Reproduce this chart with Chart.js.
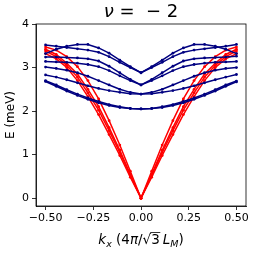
<!DOCTYPE html>
<html><head><meta charset="utf-8">
<script src="https://cdn.jsdelivr.net/npm/chart.js@4/dist/chart.umd.min.js"></script>
<style>html,body{margin:0;padding:0;background:#fff}canvas{display:block}</style>
</head><body>
<canvas id="c" width="256" height="255"></canvas>
<script>
const kValues = [-0.5,-0.444,-0.389,-0.333,-0.278,-0.222,-0.167,-0.111,-0.056,0,0.056,0.111,0.167,0.222,0.278,0.333,0.389,0.444,0.5];
const xTicks = [-0.5,-0.25,0,0.25,0.5];
const yTicks = [0,1,2,3,4];

const red1 = [3.47,3.40,3.25,3.02,2.70,2.28,1.78,1.22,0.62,0,0.62,1.22,1.78,2.28,2.70,3.02,3.25,3.40,3.47];
const red2 = [3.42,3.30,3.10,2.85,2.50,2.10,1.62,1.10,0.55,0,0.55,1.10,1.62,2.10,2.50,2.85,3.10,3.30,3.42];
const red3 = [3.38,3.25,3.05,2.78,2.42,2.02,1.55,1.05,0.52,0,0.52,1.05,1.55,2.02,2.42,2.78,3.05,3.25,3.38];
const red4 = [3.32,3.20,3.00,2.70,2.33,1.92,1.46,0.98,0.48,0,0.48,0.98,1.46,1.92,2.33,2.70,3.00,3.20,3.32];

const blue1 = [3.32,3.42,3.49,3.53,3.53,3.45,3.33,3.17,3.02,2.88,3.02,3.17,3.33,3.45,3.53,3.53,3.49,3.42,3.32];
const blue2 = [3.52,3.49,3.46,3.43,3.40,3.35,3.25,3.12,3.00,2.88,3.00,3.12,3.25,3.35,3.40,3.43,3.46,3.49,3.53];
const blue3 = [3.24,3.24,3.23,3.22,3.20,3.15,3.03,2.88,2.73,2.60,2.73,2.88,3.03,3.15,3.20,3.22,3.23,3.24,3.26];
const blue4 = [3.14,3.13,3.12,3.10,3.07,3.02,2.93,2.81,2.70,2.60,2.70,2.81,2.93,3.02,3.07,3.10,3.12,3.13,3.14];
const blue5 = [3.01,2.98,2.94,2.88,2.80,2.70,2.60,2.50,2.43,2.39,2.43,2.50,2.60,2.70,2.80,2.88,2.94,2.98,3.00];
const blue6 = [2.83,2.78,2.72,2.65,2.58,2.52,2.47,2.43,2.40,2.39,2.40,2.43,2.47,2.52,2.58,2.65,2.72,2.78,2.84];
const blue7 = [2.70,2.60,2.49,2.39,2.30,2.22,2.15,2.10,2.06,2.05,2.06,2.10,2.15,2.22,2.30,2.39,2.49,2.60,2.69];
const blue8 = [2.68,2.57,2.46,2.36,2.27,2.19,2.13,2.08,2.06,2.05,2.06,2.08,2.13,2.19,2.27,2.36,2.46,2.57,2.67];

const blueBands = [blue1,blue2,blue3,blue4,blue5,blue6,blue7,blue8];
const redBands = [red1,red2,red3,red4];

function mk(arr, color){
  return {data: arr.map((v,i)=>({x:kValues[i], y:v})), borderColor: color, backgroundColor: color,
    borderWidth: 1.5, pointRadius: 1.4, pointHoverRadius: 1.4, pointBorderWidth: 0, tension: 0, fill:false};
}
const datasets = [...blueBands.map(b=>mk(b,'#000080')), ...redBands.map(b=>mk(b,'#ff0000'))];

const FONT = 'DejaVu Sans';
const decor = {
  id:'decor',
  afterDraw(chart){
    const ctx = chart.ctx, a = chart.chartArea;
    ctx.save();
    ctx.strokeStyle = '#000'; ctx.lineWidth = 0.8;
    ctx.strokeRect(a.left, a.top, a.right-a.left, a.bottom-a.top);
    ctx.fillStyle = '#000';
    // title
    ctx.textBaseline = 'alphabetic';
    ctx.textAlign = 'left';
    const TS = 18;
    ctx.font = 'italic '+TS+'px ' + FONT;
    const cx = (a.left+a.right)/2;
    const t1 = 'ν', t2 = ' =  − 2';
    const w1 = ctx.measureText(t1).width;
    ctx.font = TS+'px ' + FONT;
    const w2 = ctx.measureText(t2).width;
    let x0 = cx - (w1+w2)/2;
    ctx.font = 'italic '+TS+'px ' + FONT; ctx.fillText(t1, x0, 17);
    ctx.font = TS+'px ' + FONT; ctx.fillText(t2, x0+w1, 17);
    // y label
    ctx.save();
    ctx.translate(11, (a.top+a.bottom)/2);
    ctx.rotate(-Math.PI/2);
    ctx.textAlign = 'center'; ctx.textBaseline = 'middle';
    ctx.font = '12px ' + FONT;
    ctx.fillText('E (meV)', 0, 0);
    ctx.restore();
    // x label: k_x (4π/√3 L_M)
    const parts = [
      {t:'k', f:'italic 13.5px '+FONT, dy:0},
      {t:'x', f:'italic 9.5px '+FONT, dy:3},
      {t:' (4', f:'13.5px '+FONT, dy:0},
      {t:'π', f:'italic 13.5px '+FONT, dy:0},
      {t:'/', f:'13.5px '+FONT, dy:0},
      {t:'√', f:'13.5px '+FONT, dy:0},
      {t:'3', f:'13.5px '+FONT, dy:0, over:true},
      {t:' ', f:'9px '+FONT, dy:0},
      {t:'L', f:'italic 13.5px '+FONT, dy:0},
      {t:'M', f:'italic 9.5px '+FONT, dy:3},
      {t:')', f:'13.5px '+FONT, dy:0}
    ];
    let tw = 0;
    parts.forEach(p=>{ctx.font=p.f; p.w=ctx.measureText(p.t).width; tw+=p.w;});
    let x = cx - tw/2; const by = 244;
    ctx.textAlign='left'; ctx.textBaseline='alphabetic';
    parts.forEach(p=>{
      ctx.font=p.f; ctx.fillText(p.t, x, by+p.dy);
      if(p.over){ ctx.beginPath(); ctx.lineWidth=0.8; ctx.moveTo(x-1, by-11.5); ctx.lineTo(x+p.w+0.5, by-11.5); ctx.stroke(); }
      x += p.w;
    });
    ctx.restore();
  }
};

new Chart(document.getElementById('c'), {
  type:'line',
  data:{datasets},
  options:{
    responsive:false, animation:false, events:[],
    layout:{padding:{top:24, right:10, left:0, bottom:0}},
    plugins:{legend:{display:false}, tooltip:{enabled:false}, title:{display:false}},
    scales:{
      x:{type:'linear', min:-0.55, max:0.55,
        afterBuildTicks(s){ s.ticks = xTicks.map(v=>({value:v})); },
        afterFit(s){ s.height = 49; },
        ticks:{callback:v=>(v<0?'−':'')+Math.abs(v).toFixed(2), color:'#000', font:{family:FONT,size:11}, padding:2, maxRotation:0, autoSkip:false},
        grid:{drawOnChartArea:false, drawTicks:true, tickLength:4, tickColor:'#000', tickWidth:0.8},
        border:{display:true, color:'#000', width:0.8}
      },
      y:{type:'linear', min:-0.18, max:4,
        afterBuildTicks(s){ s.ticks = yTicks.map(v=>({value:v})); },
        afterFit(s){ s.width = 36; },
        ticks:{callback:v=>String(v), color:'#000', font:{family:FONT,size:11}, padding:3},
        grid:{drawOnChartArea:false, drawTicks:true, tickLength:4, tickColor:'#000', tickWidth:0.8},
        border:{display:true, color:'#000', width:0.8}
      }
    }
  },
  plugins:[decor]
});
</script>
</body></html>
